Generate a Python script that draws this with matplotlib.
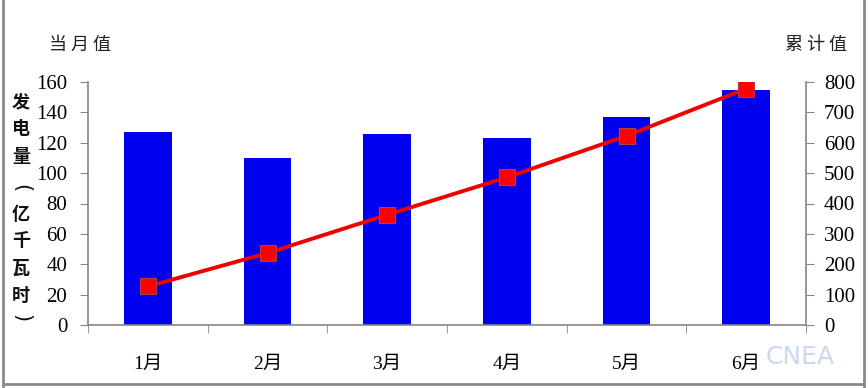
import matplotlib
matplotlib.use("Agg")
import matplotlib.pyplot as plt
from matplotlib.lines import Line2D

months = ["1月", "2月", "3月", "4月", "5月", "6月"]
monthly = [127, 110, 126, 123, 137, 155]
cumulative = [127, 237, 363, 486, 623, 778]
left_ticks = [0, 20, 40, 60, 80, 100, 120, 140, 160]
right_ticks = [0, 100, 200, 300, 400, 500, 600, 700, 800]
ylabel_chars = ["发", "电", "量", "(", "亿", "千", "瓦", "时", ")"]
ylabel_pos = [102, 129, 156, 188, 214, 241, 268, 295, 318]

W, H = 868, 388
fig = plt.figure(figsize=(W / 100, H / 100), dpi=100)
fig.patch.set_facecolor("white")

cjk = ["Noto Sans CJK SC", "DejaVu Sans"]
serif = ["Liberation Serif", "Noto Sans CJK SC"]
gray = "#868686"

ax = fig.add_axes([88 / W, (H - 325) / H, (806 - 88) / W, (325 - 82) / H])
x = list(range(len(months)))
ax.bar(x, monthly, width=0.4, color="#0000f0", zorder=2)
ax.set_xlim(-0.5, 5.5)
ax.set_ylim(0, 160)
ax.set_yticks(left_ticks)
ax.set_xticks(x)
ax.set_xticklabels(months, family=serif, fontsize=14)
ax.set_xticks([i - 0.5 for i in range(len(months) + 1)], minor=True)
ax.tick_params(axis="x", which="major", length=0, pad=22)
ax.tick_params(axis="x", which="minor", length=6, color=gray, direction="out")
ax.tick_params(axis="y", length=6, color=gray, direction="out", pad=9, labelsize=15)
for lab in ax.get_yticklabels():
    lab.set_family("Liberation Serif")
for s in ["top", "right"]:
    ax.spines[s].set_visible(False)
for s in ["left", "bottom"]:
    ax.spines[s].set_color(gray)
    ax.spines[s].set_linewidth(1.2)

ax2 = ax.twinx()
ax2.plot(x, cumulative, color="#f00000", lw=2.8, marker="s", markersize=11,
         markerfacecolor="#ff0000", markeredgecolor="#b04040", markeredgewidth=0.8, zorder=3)
ax2.set_ylim(0, 800)
ax2.set_yticks(right_ticks)
ax2.tick_params(axis="y", length=6, color=gray, direction="out", pad=7, labelsize=15)
for lab in ax2.get_yticklabels():
    lab.set_family("Liberation Serif")
for s in ["top", "left", "bottom"]:
    ax2.spines[s].set_visible(False)
ax2.spines["right"].set_color(gray)
ax2.spines["right"].set_linewidth(1.2)

fig.text(80 / W, 1 - 45 / H, "当 月 值", family=cjk, fontsize=13, ha="center", va="center", color="#222222")
fig.text(816 / W, 1 - 45 / H, "累 计 值", family=cjk, fontsize=13, ha="center", va="center", color="#222222")

for ch, yp in zip(ylabel_chars, ylabel_pos):
    if ch in "()":
        fig.text(21 / W, 1 - yp / H, ch, family=["DejaVu Sans"], fontsize=15, rotation=-90,
                 ha="center", va="center", color="#111111")
    else:
        fig.text(21 / W, 1 - yp / H, ch, family=cjk, fontsize=13,
                 ha="center", va="center", color="#111111", fontweight="bold")

fig.text(800 / W, 1 - 357 / H, "CNEA", family=["DejaVu Sans"], fontsize=18,
         ha="center", va="center", color="#c9d9ee")

for xs, ys in [([3 / W, 3 / W], [0, 1]), ([864 / W, 864 / W], [0, 1]), ([3 / W, 864 / W], [4 / H, 4 / H])]:
    fig.add_artist(Line2D(xs, ys, color="#8a8a8a", lw=2))

fig.savefig("out.png", dpi=100)
